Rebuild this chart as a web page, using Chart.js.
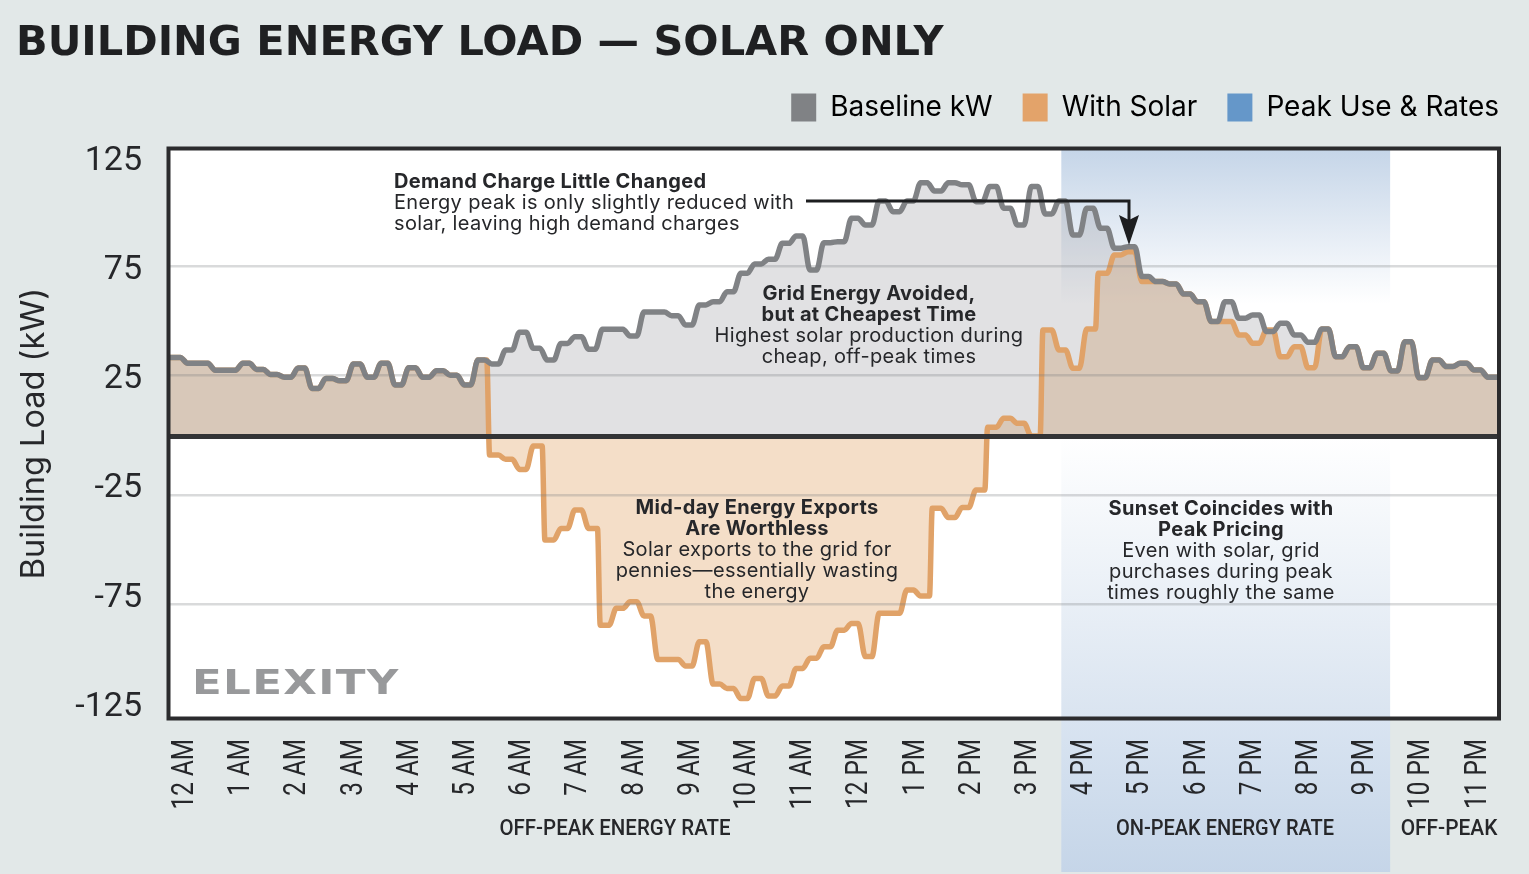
<!DOCTYPE html>
<html>
<head>
<meta charset="utf-8">
<title>Building Energy Load - Solar Only</title>
<script src="https://cdn.jsdelivr.net/npm/chart.js@4/dist/chart.umd.min.js"></script>
<style>
  html, body { margin: 0; padding: 0; background: #e2e8e8; overflow: hidden; }
  canvas { display: block; }
</style>
</head>
<body>
<canvas id="loadChart" width="1529" height="874"></canvas>
<script>
(function () {
  'use strict';

  // 15 minute readings, midnight to midnight (kW)
  var baselineKw = [
    36, 33.3, 33.3, 30.1, 30.1, 33.3, 30.5, 28.2, 26.9, 31.1, 21.8, 26.3,
    25.3, 33, 26.9, 33.3, 23.4, 31.3, 26.9, 29.9, 27.8, 23.4, 34.8, 33,
    39.4, 47.5, 40.2, 34.8, 42.4, 45.5, 39.7, 48.9, 48.9, 45.8, 56.8, 56.8,
    55.1, 50.8, 60, 61.5, 66.1, 74.5, 78.8, 80.9, 88.2, 91.6, 76, 88.5,
    89, 99.7, 96.6, 107.6, 102.7, 107.6, 116, 112.2, 116, 115, 107.3, 114.2,
    104.3, 96.6, 114.2, 101.7, 107.6, 92, 104.3, 95.1, 86, 86.7, 73, 70.7,
    69.6, 65, 61.5, 52.4, 61.5, 53.9, 55.4, 47.8, 51.6, 46.3, 42.9, 49,
    36.3, 40.9, 31.3, 37.9, 29.8, 43.2, 26.7, 34.8, 31.8, 33.3, 30.2, 26.9
  ];
  var withSolarKw = [
    36, 33.3, 33.3, 30.1, 30.1, 33.3, 30.5, 28.2, 26.9, 31.1, 21.8, 26.3,
    25.3, 33, 26.9, 33.3, 23.4, 31.3, 26.9, 29.9, 27.8, 23.4, 34.8, -8.7,
    -10.7, -15.3, -4.6, -47.6, -42.3, -33.9, -42.3, -86.6, -78.9, -75.9, -82.4, -102.3,
    -102.3, -105.3, -94.2, -113.6, -115.6, -120.2, -111, -119.1, -114.5, -106.4, -101.8, -96.5,
    -88.9, -85.8, -101, -81.2, -81.2, -70.5, -73.3, -33.1, -37.3, -32.7, -24.7, 4,
    8.1, 5.8, 0, 48.5, 39.4, 31, 49, 74.5, 82.9, 84.4, 70.7, 70.7,
    69.6, 65, 61.5, 52.4, 52.4, 46.3, 42.5, 48.5, 36.3, 40.9, 31.3, 49,
    36.3, 40.9, 31.3, 37.9, 29.8, 43.2, 26.7, 34.8, 31.8, 33.3, 30.2, 26.9
  ];
  var hourLabels = [
    '12 AM', '1 AM', '2 AM', '3 AM', '4 AM', '5 AM', '6 AM', '7 AM', '8 AM', '9 AM', '10 AM', '11 AM',
    '12 PM', '1 PM', '2 PM', '3 PM', '4 PM', '5 PM', '6 PM', '7 PM', '8 PM', '9 PM', '10 PM', '11 PM'
  ];
  var yTickValues = [125, 75, 25, -25, -75, -125];
  var gridValues = [77.8, 27.9, 0, -27, -76.9];
  var legendNames = ['Baseline kW', 'With Solar', 'Peak Use & Rates'];
  var legendColors = ['#808285', '#e3a36a', '#6597c9'];

  var FONT = 'Inter, sans-serif';
  var ROBOTO = 'Roboto, sans-serif';
  var PEAK_FROM = 64.43;
  var PEAK_TO = 88.2;
  var BLUE = '197, 213, 232';

  // half width of the rounded riser between two readings, tall ones are nearly vertical
  function riser(a, b) {
    return Math.abs(a - b) > 20 ? 0.1 : 0.26;
  }

  // each reading holds for its 15 minutes
  function steps(values) {
    var pts = [];
    values.forEach(function (v, i) {
      var last = i === values.length - 1;
      pts.push({ x: i === 0 ? -0.11 : i + riser(values[i - 1], v), y: v });
      pts.push({ x: last ? values.length + 0.07 : i + 1 - riser(v, values[i + 1]), y: v });
    });
    return pts;
  }

  function note(ctx, x, y, bold, plain, align) {
    ctx.textAlign = align;
    ctx.textBaseline = 'middle';
    ctx.fillStyle = '#26272a';
    ctx.letterSpacing = '0.33px';
    ctx.font = '700 20px ' + FONT;
    bold.forEach(function (t) {
      ctx.fillText(t, x, y);
      y += 21;
    });
    ctx.font = '400 20px ' + FONT;
    plain.forEach(function (t) {
      ctx.fillText(t, x, y);
      y += 21;
    });
    ctx.letterSpacing = '0px';
  }

  // Roboto squeezed along the reading direction, the captions are condensed
  function squeezed(ctx, text, x, y, sx, angle) {
    ctx.save();
    ctx.translate(x, y);
    ctx.rotate(angle);
    ctx.scale(sx, 1);
    ctx.fillText(text, 0, 0);
    ctx.restore();
  }

  var backdrop = {
    id: 'backdrop',
    afterLayout: function (chart) {
      // legend sits flush with the frame and closer to the title
      chart.legend.left += 30;
      chart.legend.right += 30;
      chart.legend.top -= 17;
      chart.legend.bottom -= 17;
      chart.titleBlock.left += 3;
    },
    beforeDraw: function (chart) {
      var ctx = chart.ctx;
      var a = chart.chartArea;
      var x0 = chart.scales.x.getPixelForValue(PEAK_FROM);
      var x1 = chart.scales.x.getPixelForValue(PEAK_TO);
      var zero = chart.scales.y.getPixelForValue(0);
      ctx.save();
      ctx.fillStyle = '#ffffff';
      ctx.fillRect(a.left, a.top, a.width, a.height);
      var top = ctx.createLinearGradient(0, a.top, 0, a.top + 155);
      top.addColorStop(0, 'rgba(' + BLUE + ', 1)');
      top.addColorStop(1, 'rgba(' + BLUE + ', 0)');
      ctx.fillStyle = top;
      ctx.fillRect(x0, a.top, x1 - x0, 155);
      // one long fade from the zero line to the bottom of the page
      var low = ctx.createLinearGradient(0, zero, 0, chart.height);
      low.addColorStop(0, 'rgba(' + BLUE + ', 0)');
      low.addColorStop(1, 'rgba(' + BLUE + ', 1)');
      ctx.fillStyle = low;
      ctx.fillRect(x0, zero, x1 - x0, a.bottom - zero);
      var under = ctx.createLinearGradient(0, a.bottom, 0, chart.height);
      under.addColorStop(0, '#d9e4f1');
      under.addColorStop(1, 'rgb(' + BLUE + ')');
      ctx.fillStyle = under;
      ctx.fillRect(x0, a.bottom, x1 - x0, chart.height - a.bottom - 2);
      ctx.restore();
    }
  };

  var overlay = {
    id: 'overlay',
    afterDraw: function (chart) {
      var ctx = chart.ctx;
      var a = chart.chartArea;
      var hours = chart.scales.xHours;
      ctx.save();
      ctx.strokeStyle = '#2b2b2d';
      ctx.lineWidth = 4;
      ctx.strokeRect(a.left, a.top, a.width, a.height);

      note(ctx, 394, 182, ['Demand Charge Little Changed'],
        ['Energy peak is only slightly reduced with', 'solar, leaving high demand charges'], 'left');
      note(ctx, 869, 294, ['Grid Energy Avoided,', 'but at Cheapest Time'],
        ['Highest solar production during', 'cheap, off-peak times'], 'center');
      note(ctx, 757, 508, ['Mid-day Energy Exports', 'Are Worthless'],
        ['Solar exports to the grid for', 'pennies\u2014essentially wasting', 'the energy'], 'center');
      note(ctx, 1221, 509, ['Sunset Coincides with', 'Peak Pricing'],
        ['Even with solar, grid', 'purchases during peak', 'times roughly the same'], 'center');

      // demand charge arrow
      ctx.strokeStyle = '#1d1e20';
      ctx.lineWidth = 3;
      ctx.beginPath();
      ctx.moveTo(806, 201);
      ctx.lineTo(1129, 201);
      ctx.lineTo(1129, 225);
      ctx.stroke();
      ctx.fillStyle = '#1d1e20';
      ctx.beginPath();
      ctx.moveTo(1129, 245);
      ctx.lineTo(1119, 215);
      ctx.lineTo(1129, 220);
      ctx.lineTo(1139, 215);
      ctx.closePath();
      ctx.fill();

      // hour labels, rotated and condensed
      ctx.fillStyle = '#26272a';
      ctx.font = '400 32px ' + ROBOTO;
      ctx.textAlign = 'right';
      ctx.textBaseline = 'middle';
      hours.ticks.forEach(function (t) {
        squeezed(ctx, hourLabels[t.value], hours.getPixelForValue(t.value) + 2, 739, 0.76, -Math.PI / 2);
      });

      // rate period captions under the hour labels
      ctx.font = '500 22px ' + ROBOTO;
      ctx.textAlign = 'center';
      squeezed(ctx, 'OFF-PEAK ENERGY RATE', 615, 829, 0.93, 0);
      squeezed(ctx, 'ON-PEAK ENERGY RATE', 1225, 829, 0.91, 0);
      squeezed(ctx, 'OFF-PEAK', 1449, 829, 0.95, 0);

      // wordmark
      ctx.fillStyle = '#98999b';
      ctx.font = '700 33px "DejaVu Sans", sans-serif';
      ctx.textAlign = 'left';
      ctx.letterSpacing = '1px';
      squeezed(ctx, 'ELEXITY', 192, 685, 1.32, 0);
      ctx.letterSpacing = '0px';
      ctx.restore();
    }
  };

  new Chart(document.getElementById('loadChart').getContext('2d'), {
    type: 'line',
    data: {
      datasets: [
        {
          label: legendNames[0],
          data: steps(baselineKw),
          borderColor: '#808285',
          backgroundColor: 'rgba(128, 130, 138, 0.24)',
          borderWidth: 5.5,
          fill: 'origin'
        },
        {
          label: legendNames[1],
          data: steps(withSolarKw),
          borderColor: '#e0a268',
          backgroundColor: 'rgba(227, 172, 117, 0.4)',
          borderWidth: 5.5,
          fill: 'origin'
        },
        { label: legendNames[2], data: [] }
      ]
    },
    options: {
      responsive: false,
      animation: false,
      layout: { autoPadding: false, padding: { left: 13, right: 30 } },
      elements: {
        point: { radius: 0 },
        line: { cubicInterpolationMode: 'monotone', borderCapStyle: 'round', borderJoinStyle: 'round' }
      },
      scales: {
        x: { type: 'linear', min: -0.11, max: 96.07, display: false },
        xHours: {
          type: 'linear',
          position: 'bottom',
          axis: 'x',
          min: -0.258,
          max: 23.416,
          grid: { display: false },
          border: { display: false },
          afterBuildTicks: function (axis) {
            axis.ticks = hourLabels.map(function (_, i) {
              return { value: i };
            });
          },
          afterFit: function (axis) {
            axis.height = 155.5;
          },
          ticks: { display: false }
        },
        y: {
          type: 'linear',
          position: 'left',
          min: -129.35,
          max: 131.64,
          border: { display: false },
          grid: {
            z: 1,
            drawTicks: false,
            color: function (c) {
              return c.tick.value === 0 ? '#333436' : 'rgba(120, 122, 125, 0.28)';
            },
            lineWidth: function (c) {
              return c.tick.value === 0 ? 5 : 2.5;
            }
          },
          ticks: { display: false },
          afterBuildTicks: function (axis) {
            axis.ticks = gridValues.map(function (v) {
              return { value: v };
            });
          },
          afterFit: function (axis) {
            axis.width = 0;
          }
        },
        yLabels: {
          type: 'linear',
          position: 'left',
          axis: 'y',
          min: -130.14,
          max: 130.85,
          border: { display: false },
          grid: { display: false },
          title: {
            display: true,
            text: 'Building Load (kW)',
            color: '#26272a',
            font: { family: FONT, size: 32.5 },
            padding: { top: 2, bottom: 0 }
          },
          ticks: {
            padding: 18.5,
            color: '#26272a',
            font: { family: ROBOTO, size: 34 }
          },
          afterBuildTicks: function (axis) {
            axis.ticks = yTickValues.map(function (v) {
              return { value: v };
            });
          },
          afterFit: function (axis) {
            axis.width = 155.5;
          }
        }
      },
      plugins: {
        filler: { drawTime: 'beforeDatasetsDraw' },
        tooltip: { enabled: false },
        title: {
          display: true,
          text: 'BUILDING ENERGY LOAD \u2014 SOLAR ONLY',
          align: 'start',
          color: '#1f2022',
          font: { family: '"DejaVu Sans", sans-serif', size: 41.5, weight: 700, lineHeight: 1 },
          padding: { top: 23, bottom: 16 }
        },
        legend: {
          position: 'top',
          align: 'end',
          labels: {
            boxWidth: 25,
            boxHeight: 28,
            padding: 30,
            color: '#26272a',
            font: { family: FONT, size: 28 },
            generateLabels: function () {
              return legendNames.map(function (name, i) {
                return {
                  text: name,
                  fillStyle: legendColors[i],
                  strokeStyle: legendColors[i],
                  lineWidth: 0,
                  datasetIndex: i
                };
              });
            }
          }
        }
      }
    },
    plugins: [backdrop, overlay]
  });
})();
</script>
</body>
</html>
